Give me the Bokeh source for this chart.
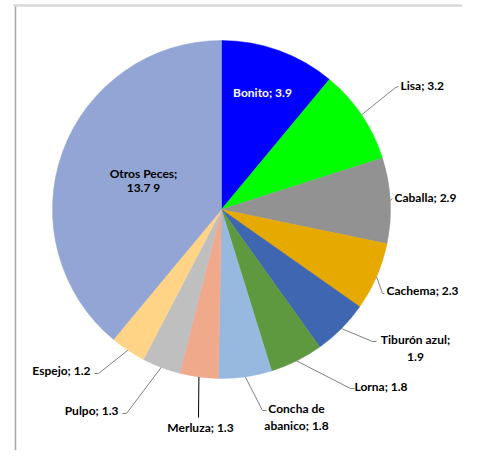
import math
from bokeh.plotting import figure
from bokeh.models import Range1d, ColumnDataSource
from bokeh.core.properties import value
from bokeh.embed import file_html
from bokeh.resources import INLINE

# ---- data ----
categories = ["Bonito", "Lisa", "Caballa", "Cachema", "Tiburón azul", "Lorna",
              "Concha de abanico", "Merluza", "Pulpo", "Espejo", "Otros Peces"]
values = [3.9, 3.2, 2.9, 2.3, 1.9, 1.8, 1.8, 1.3, 1.3, 1.2, 13.79]
value_labels = ["3.9", "3.2", "2.9", "2.3", "1.9", "1.8", "1.8", "1.3", "1.3", "1.2", "13.7 9"]
colors = ["#0000FF", "#00FF00", "#929292", "#E5A900", "#3F66B1", "#5F993F",
          "#97B9E0", "#F0A98B", "#BFBFBF", "#FFD486", "#93A5D5"]

# ---- layout (picture pixel coordinates) ----
W, H = 462, 450
PAGE_H = 466
def Y(py):
    return PAGE_H - py

CX, CY, R = 221, Y(209), 169

p = figure(width=W, height=H, x_range=Range1d(0, W), y_range=Range1d(PAGE_H - H, PAGE_H),
           output_backend="svg", toolbar_location=None, min_border=0,
           x_axis_type=None, y_axis_type=None)
p.grid.visible = False
p.outline_line_color = None
p.background_fill_color = "white"

# frame lines
p.line([15, 15], [Y(5), Y(466)], line_color="#A6A6A6", line_width=1.5)
p.line([13, 476], [Y(5), Y(5)], line_color="#D9D9D9", line_width=2.5)

total = sum(values)
starts, ends, mids = [], [], []
cum = 0.0
for v in values:
    a0 = math.pi / 2 - cum / total * 2 * math.pi
    cum += v
    a1 = math.pi / 2 - cum / total * 2 * math.pi
    starts.append(a0)
    ends.append(a1)
    mids.append((a0 + a1) / 2)

src = ColumnDataSource(dict(start=starts, end=ends, color=colors))
p.wedge(x=CX, y=CY, radius=R, start_angle="start", end_angle="end", direction="clock",
        fill_color="color", line_color="color", line_width=0.5, source=src)

# leader line elbows/ends and label positions, picture pixels
leaders = {
    1: [(395, 87), (398, 86)],
    2: [(392, 198)],
    3: [(382, 293), (384, 293)],
    4: [(372, 341), (376, 341)],
    5: [(350, 388), (354, 388)],
    6: [(262, 410), (266, 410)],
    7: [(198, 417)],
    8: [(126, 413), (122, 413)],
    9: [(98, 373), (94, 373)],
}
for i, pts in leaders.items():
    a = mids[i]
    xs = [CX + R * math.cos(a)] + [q[0] for q in pts]
    ys = [CY + R * math.sin(a)] + [Y(q[1]) for q in pts]
    p.line(xs, ys, line_color="#000000" if i == 7 else "#7F7F7F", line_width=1)

labels = [
    (0, [f"{categories[0]}; {value_labels[0]}"], 262, 92, "center", "white"),
    (1, [f"{categories[1]}; {value_labels[1]}"], 400, 85, "left", "black"),
    (2, [f"{categories[2]}; {value_labels[2]}"], 394, 197, "left", "black"),
    (3, [f"{categories[3]}; {value_labels[3]}"], 386, 290, "left", "black"),
    (4, ["Tiburón azul;", value_labels[4]], 415, 339, "center", "black"),
    (5, [f"{categories[5]}; {value_labels[5]}"], 354, 386, "left", "black"),
    (6, ["Concha de", f"abanico; {value_labels[6]}"], 296, 408, "center", "black"),
    (7, [f"{categories[7]}; {value_labels[7]}"], 200, 427, "center", "black"),
    (8, [f"{categories[8]}; {value_labels[8]}"], 118, 410, "right", "black"),
    (9, [f"{categories[9]}; {value_labels[9]}"], 90, 370, "right", "black"),
    (10, ["Otros Peces;", value_labels[10]], 143, 173, "center", "black"),
]
LINE_H = {4: 17, 6: 17, 10: 14}
for i, lines, lx, ly, align, col in labels:
    for k, t in enumerate(lines):
        p.text(x=[lx], y=[Y(ly + k * LINE_H.get(i, 16))], text=[t],
               text_font=value("Lato"), text_font_style="bold", text_font_size="12px",
               text_align=align, text_baseline="middle", text_color=col)

open("out.html", "w").write(file_html(p, INLINE))
